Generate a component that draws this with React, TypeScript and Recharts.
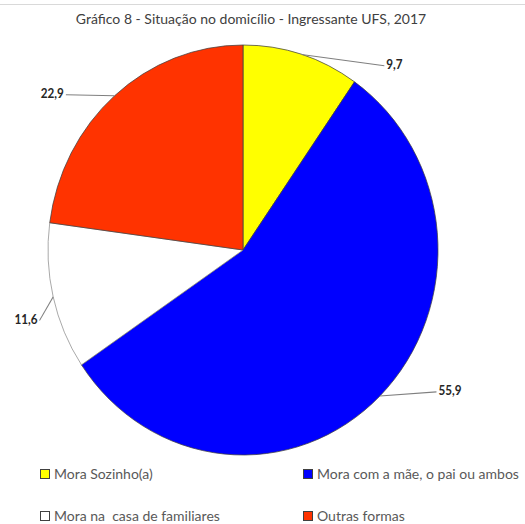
import { PieChart, Pie, Cell } from 'recharts'

const categories = ['Mora Sozinho(a)', 'Mora com a mãe, o pai ou ambos', 'Mora na  casa de familiares', 'Outras formas']
const values = [9.7, 55.9, 11.6, 22.9]
const labels = ['9,7', '55,9', '11,6', '22,9']
const colors = ['#FFFF00', '#0000FF', '#FFFFFF', '#FF3300']

// offset from slice edge (at mid angle) to the end of the leader line, and text anchor
const LABEL_POS = [
  { dx: 85, dy: 11, anchor: 'start' },
  { dx: 58, dy: -4, anchor: 'start' },
  { dx: -14, dy: 23, anchor: 'end' },
  { dx: -50, dy: -1, anchor: 'end' },
]

const rows = categories.map((name, i) => ({ name, value: values[i] }))

const RAD = Math.PI / 180

function renderLabel(props: any) {
  const { cx, cy, midAngle, outerRadius, index } = props
  const sx = cx + outerRadius * Math.cos(-midAngle * RAD)
  const sy = cy + outerRadius * Math.sin(-midAngle * RAD)
  const p = LABEL_POS[index]
  const ex = sx + p.dx
  const ey = sy + p.dy
  const tx = p.anchor === 'start' ? ex + 2 : ex - 2
  return (
    <g>
      <polyline points={`${sx},${sy} ${ex},${ey}`} fill="none" stroke="#7f7f7f" strokeWidth={1} />
      <text x={tx} y={ey} textAnchor={p.anchor} dominantBaseline="middle" fontSize={12} fontWeight="bold" fill="#262626">
        {labels[index]}
      </text>
    </g>
  )
}

export default function App() {
  return (
    <div style={{ position: 'absolute', left: 0, top: 0, width: 525, height: 524, background: '#fff', fontFamily: 'Lato, "Open Sans", sans-serif', overflow: 'hidden' }}>
      <div style={{ position: 'absolute', left: 0, top: 4, width: 525, borderTop: '1px solid #d9d9d9' }} />
      <div style={{ position: 'absolute', left: 0, top: 10, width: 502, textAlign: 'center', fontSize: 14, color: '#404040' }}>
        Gráfico 8 - Situação no domicílio - Ingressante UFS, 2017
      </div>
      <div style={{ position: 'absolute', left: 0, top: 0, transform: 'scale(0.975, 1.025)', transformOrigin: '243px 250px' }}>
        <PieChart width={525} height={500} margin={{ top: 0, right: 0, bottom: 0, left: 0 }}>
          <Pie
            data={rows}
            dataKey="value"
            cx={243}
            cy={250}
            outerRadius={200}
            startAngle={90}
            endAngle={-270}
            stroke="#404040"
            strokeWidth={0.75}
            label={renderLabel}
            labelLine={false}
            isAnimationActive={false}
          >
            {rows.map((_, i) => (
              <Cell key={i} fill={colors[i]} stroke={i === 2 ? '#8c8c8c' : '#404040'} />
            ))}
          </Pie>
        </PieChart>
      </div>
      {categories.map((c, i) => (
        <div
          key={c}
          style={{
            position: 'absolute',
            left: i % 2 === 0 ? 40 : 303,
            top: i < 2 ? 465 : 507,
            display: 'flex',
            alignItems: 'center',
            fontSize: 14,
            color: '#595959',
            whiteSpace: 'pre',
          }}
        >
          <span style={{ display: 'inline-block', width: 8, height: 8, background: colors[i], border: '1px solid #404040', marginRight: 4 }} />
          {c}
        </div>
      ))}
    </div>
  )
}
